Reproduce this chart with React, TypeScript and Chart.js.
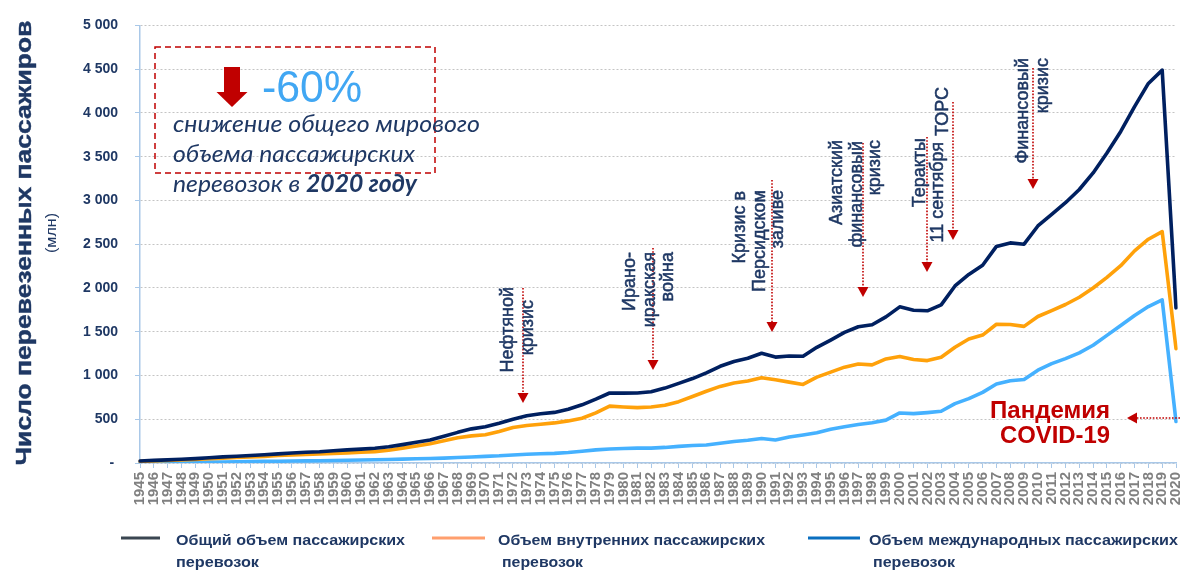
import React, { useEffect, useRef } from 'react';
import { Chart, registerables } from 'chart.js';

Chart.register(...registerables);

// ---------- DATA ----------
const YEARS = [
  '1945', '1946', '1947', '1948', '1949', '1950', '1951', '1952', '1953', '1954',
  '1955', '1956', '1957', '1958', '1959', '1960', '1961', '1962', '1963', '1964',
  '1965', '1966', '1967', '1968', '1969', '1970', '1971', '1972', '1973', '1974',
  '1975', '1976', '1977', '1978', '1979', '1980', '1981', '1982', '1983', '1984',
  '1985', '1986', '1987', '1988', '1989', '1990', '1991', '1992', '1993', '1994',
  '1995', '1996', '1997', '1998', '1999', '2000', '2001', '2002', '2003', '2004',
  '2005', '2006', '2007', '2008', '2009', '2010', '2011', '2012', '2013', '2014',
  '2015', '2016', '2017', '2018', '2019', '2020',
];

// Общий объем (млн)
const TOTAL = [
  23, 30, 36, 42, 50, 60, 70, 78, 86, 94,
  104, 114, 122, 128, 140, 150, 158, 168, 185, 210,
  236, 262, 305, 350, 390, 415, 455, 500, 540, 562,
  578, 615, 665, 730, 800, 798, 800, 814, 856, 910,
  965, 1030, 1105, 1160, 1197, 1254, 1210, 1223, 1220, 1322,
  1405, 1492, 1557, 1579, 1670, 1784, 1746, 1739, 1807, 2023,
  2155, 2260, 2475, 2515, 2500, 2708, 2841, 2974, 3125, 3314,
  3542, 3788, 4072, 4337, 4489, 1773,
];

// Внутренние перевозки (млн)
const DOMESTIC = [
  19, 24, 29, 34, 40, 48, 56, 62, 69, 76,
  85, 93, 99, 103, 110, 116, 122, 130, 145, 170,
  195, 220, 255, 288, 310, 322, 360, 405, 428, 443,
  458, 481, 511, 572, 650, 640, 633, 640, 659, 701,
  760, 820, 875, 915, 937, 975, 951, 924, 898, 981,
  1038, 1095, 1132, 1121, 1189, 1216, 1182, 1170, 1208, 1322,
  1417, 1462, 1585, 1583, 1561, 1674, 1742, 1811, 1894, 2000,
  2121, 2254, 2424, 2557, 2644, 1307,
];

// Международные перевозки (млн)
const INTERNATIONAL = [
  4, 5, 6, 7, 8, 10, 12, 14, 16, 18,
  20, 22, 24, 25, 28, 31, 34, 37, 40, 44,
  48, 52, 56, 62, 68, 76, 82, 92, 100, 105,
  110, 120, 135, 150, 160, 165, 170, 170, 178, 190,
  200, 205, 225, 245, 260, 280, 262, 296, 320, 345,
  385, 415, 440, 460, 490, 572, 564, 576, 591, 678,
  735, 807, 903, 939, 955, 1061, 1136, 1193, 1258, 1345,
  1458, 1572, 1686, 1788, 1864, 474,
];

const LEGEND_LINES: string[][] = [
  ['Общий объем пассажирских', 'перевозок'],
  ['Объем внутренних пассажирских', 'перевозок'],
  ['Объем международных пассажирских', 'перевозок'],
];

const Y_TITLE = 'Число перевезенных пассажиров';
const Y_UNIT = '(млн)';
const DROP_VALUE = '-60%';
const DROP_TEXT = ['снижение общего мирового', 'объема пассажирских', 'перевозок в '];
const DROP_TEXT_BOLD = '2020 году';
const COVID_TEXT = ['Пандемия', 'COVID-19'];

// ---------- STYLE ----------
const NAVY_LINE = '#002060';
const ORANGE_LINE = '#ffa10a';
const BLUE_LINE = '#45b1ff';
const TEXT_NAVY = '#1f3864';
const RED = '#c00000';
const AXIS_BLUE = '#a9c8e8';
const SANS = '"Liberation Sans", Arial, sans-serif';
const NARROW = '"Liberation Sans Narrow", "Arial Narrow", "Liberation Sans", Arial, sans-serif';
const ITALIC_FONT = 'Lato, "Open Sans", "Liberation Sans", sans-serif';

type TxtOpts = {
  font: string;
  color: string;
  align?: CanvasTextAlign;
  baseline?: CanvasTextBaseline;
  rot?: number;
  width?: number;
  stroke?: number;
};

function drawText(ctx: CanvasRenderingContext2D, s: string, x: number, y: number, o: TxtOpts) {
  ctx.save();
  ctx.font = o.font;
  ctx.fillStyle = o.color;
  ctx.textAlign = o.align || 'left';
  ctx.textBaseline = o.baseline || 'alphabetic';
  ctx.translate(x, y);
  if (o.rot) ctx.rotate(o.rot);
  if (o.width) {
    const w = ctx.measureText(s).width;
    if (w > 0) ctx.scale(o.width / w, 1);
  }
  ctx.fillText(s, 0, 0);
  if (o.stroke) {
    ctx.strokeStyle = o.color;
    ctx.lineWidth = o.stroke;
    ctx.strokeText(s, 0, 0);
  }
  ctx.restore();
}

function arrowDown(ctx: CanvasRenderingContext2D, x: number, y1: number, tip: number) {
  ctx.save();
  ctx.strokeStyle = RED;
  ctx.lineWidth = 1.6;
  ctx.setLineDash([1.6, 1.6]);
  ctx.beginPath();
  ctx.moveTo(x, y1);
  ctx.lineTo(x, tip - 9);
  ctx.stroke();
  ctx.setLineDash([]);
  ctx.fillStyle = RED;
  ctx.beginPath();
  ctx.moveTo(x - 5.5, tip - 10);
  ctx.lineTo(x + 5.5, tip - 10);
  ctx.lineTo(x, tip);
  ctx.closePath();
  ctx.fill();
  ctx.restore();
}

function arrowLeft(ctx: CanvasRenderingContext2D, y: number, x1: number, tip: number) {
  ctx.save();
  ctx.strokeStyle = RED;
  ctx.lineWidth = 1.6;
  ctx.setLineDash([1.6, 1.6]);
  ctx.beginPath();
  ctx.moveTo(x1, y);
  ctx.lineTo(tip + 9, y);
  ctx.stroke();
  ctx.setLineDash([]);
  ctx.fillStyle = RED;
  ctx.beginPath();
  ctx.moveTo(tip + 10, y - 5.5);
  ctx.lineTo(tip + 10, y + 5.5);
  ctx.lineTo(tip, y);
  ctx.closePath();
  ctx.fill();
  ctx.restore();
}

// Event annotations: rotated text lines [text, column x, top y] and arrow
const EVENTS: { lines: [string, number, number][]; arrow: [number, number, number] }[] = [
  { lines: [['Нефтяной', 508, 287], ['кризис', 528, 300]], arrow: [523, 288, 403] },
  { lines: [['Ирано-', 630, 252], ['иракская', 650, 252], ['война', 668, 252]], arrow: [653, 248, 370] },
  { lines: [['Кризис в', 740, 191], ['Персидском', 760, 190], ['заливе', 778, 190]], arrow: [772, 180, 332] },
  { lines: [['Азиатский', 837, 140], ['финансовый', 857, 141], ['кризис', 875, 140]], arrow: [863, 143, 297] },
  { lines: [['Теракты', 920, 138], ['11 сентября', 938, 142]], arrow: [927, 137, 272] },
  { lines: [['ТОРС', 943, 87]], arrow: [953, 102, 240] },
  { lines: [['Финансовый', 1023, 58], ['кризис', 1043, 58]], arrow: [1033, 68, 189] },
];

const overlayPlugin = {
  id: 'overlay',
  afterDraw(chart: Chart) {
    const ctx = chart.ctx;
    ctx.save();

    // Y axis title
    drawText(ctx, Y_TITLE, 25, 243, {
      font: `bold 22px ${SANS}`, color: TEXT_NAVY, align: 'center', baseline: 'middle', rot: -Math.PI / 2, width: 445, stroke: 0.4,
    });
    drawText(ctx, Y_UNIT, 52, 233, {
      font: `15px ${SANS}`, color: TEXT_NAVY, align: 'center', baseline: 'middle', rot: -Math.PI / 2, width: 40,
    });

    // Dashed box
    ctx.save();
    ctx.strokeStyle = RED;
    ctx.lineWidth = 1.5;
    ctx.setLineDash([6, 4]);
    ctx.strokeRect(155, 47, 280, 126);
    ctx.restore();

    // Block arrow
    ctx.save();
    ctx.fillStyle = RED;
    ctx.fillRect(224, 67, 16, 26);
    ctx.beginPath();
    ctx.moveTo(216.5, 92);
    ctx.lineTo(247.5, 92);
    ctx.lineTo(232, 107);
    ctx.closePath();
    ctx.fill();
    ctx.restore();

    drawText(ctx, DROP_VALUE, 262, 102, { font: `44px ${SANS}`, color: '#41a7f3', width: 100 });

    drawText(ctx, DROP_TEXT[0], 173, 132, { font: `italic 24px ${ITALIC_FONT}`, color: TEXT_NAVY, width: 307 });
    drawText(ctx, DROP_TEXT[1], 173, 162, { font: `italic 24px ${ITALIC_FONT}`, color: TEXT_NAVY, width: 242 });
    // mixed line
    ctx.save();
    ctx.font = `italic 24px ${ITALIC_FONT}`;
    const w1 = ctx.measureText(DROP_TEXT[2]).width;
    ctx.font = `italic bold 24px ${ITALIC_FONT}`;
    const w2 = ctx.measureText(DROP_TEXT_BOLD).width;
    const k = 244 / (w1 + w2);
    ctx.translate(173, 192);
    ctx.scale(k, 1);
    ctx.fillStyle = TEXT_NAVY;
    ctx.textBaseline = 'alphabetic';
    ctx.font = `italic 24px ${ITALIC_FONT}`;
    ctx.fillText(DROP_TEXT[2], 0, 0);
    ctx.font = `italic bold 24px ${ITALIC_FONT}`;
    ctx.fillText(DROP_TEXT_BOLD, w1, 0);
    ctx.restore();

    // Events
    for (const ev of EVENTS) {
      arrowDown(ctx, ev.arrow[0], ev.arrow[1], ev.arrow[2]);
    }
    for (const ev of EVENTS) {
      for (const [t, cx, top] of ev.lines) {
        drawText(ctx, t, cx, top, {
          font: `18px ${SANS}`, color: TEXT_NAVY, align: 'right', baseline: 'middle', rot: -Math.PI / 2, stroke: 0.5,
        });
      }
    }

    // COVID
    drawText(ctx, COVID_TEXT[0], 1050, 418, { font: `bold 24px ${SANS}`, color: RED, align: 'center', width: 120 });
    drawText(ctx, COVID_TEXT[1], 1055, 443, { font: `bold 24px ${SANS}`, color: RED, align: 'center', width: 110 });
    arrowLeft(ctx, 418, 1180, 1127);

    // Legend
    const legendColors = ['#3a4651', '#ff9f6e', '#0a6fc0'];
    const legendGeom = [
      { x1: 121, x2: 160, tx: 176, w1: 229, t2x: 176, w2: 83 },
      { x1: 432, x2: 485, tx: 498, w1: 267, t2x: 502, w2: 81 },
      { x1: 808, x2: 860, tx: 869, w1: 309, t2x: 873, w2: 82 },
    ];
    legendGeom.forEach((g, i) => {
      ctx.save();
      ctx.strokeStyle = legendColors[i];
      ctx.lineWidth = 3;
      ctx.beginPath();
      ctx.moveTo(g.x1, 538);
      ctx.lineTo(g.x2, 538);
      ctx.stroke();
      ctx.restore();
      drawText(ctx, LEGEND_LINES[i][0], g.tx, 545, { font: `bold 15px ${NARROW}`, color: TEXT_NAVY, width: g.w1 });
      drawText(ctx, LEGEND_LINES[i][1], g.t2x, 567, { font: `bold 15px ${NARROW}`, color: TEXT_NAVY, width: g.w2 });
    });

    ctx.restore();
  },
};

function fmtY(v: number | string) {
  const n = Number(v);
  if (n === 0) return '- ';
  if (n < 1000) return String(n);
  const th = Math.floor(n / 1000);
  const rest = String(n % 1000).padStart(3, '0');
  return `${th} ${rest}`;
}

export default function App() {
  const ref = useRef<HTMLCanvasElement>(null);
  useEffect(() => {
    document.body.style.margin = '0';
    const canvas = ref.current;
    if (!canvas) return;
    const chart = new Chart(canvas, {
      type: 'line',
      data: {
        labels: YEARS,
        datasets: [
          { label: LEGEND_LINES[0].join(' '), data: TOTAL, borderColor: NAVY_LINE, borderWidth: 3.6 },
          { label: LEGEND_LINES[1].join(' '), data: DOMESTIC, borderColor: ORANGE_LINE, borderWidth: 3.6 },
          { label: LEGEND_LINES[2].join(' '), data: INTERNATIONAL, borderColor: BLUE_LINE, borderWidth: 3.6 },
        ],
      },
      options: {
        animation: false,
        responsive: false,
        devicePixelRatio: 1,
        layout: { padding: { top: 23, right: 8, left: 0, bottom: 0 } },
        elements: {
          point: { radius: 0, hoverRadius: 0 },
          line: { tension: 0, borderJoinStyle: 'round', borderCapStyle: 'round', fill: false },
        },
        plugins: {
          legend: { display: false },
          tooltip: { enabled: false },
          title: { display: false },
        },
        scales: {
          x: {
            type: 'category',
            offset: false,
            afterFit: (s: any) => { s.height = 107; },
            grid: {
              drawOnChartArea: false,
              drawTicks: true,
              tickLength: 5,
              tickColor: AXIS_BLUE,
              tickWidth: 1,
            },
            border: { color: AXIS_BLUE, width: 1.5 },
            ticks: {
              autoSkip: false,
              minRotation: 90,
              maxRotation: 90,
              padding: 4,
              color: '#808080',
              font: { family: SANS, size: 15, weight: 'bold' },
            },
          },
          y: {
            min: 0,
            max: 5000,
            afterFit: (s: any) => { s.width = 140; },
            grid: {
              color: '#c4c4c4',
              lineWidth: 1,
              drawTicks: true,
              tickLength: 5,
              tickColor: AXIS_BLUE,
              tickWidth: 1,
              tickBorderDash: [],
            },
            border: { color: AXIS_BLUE, width: 1.5, dash: [2, 2] },
            ticks: {
              stepSize: 500,
              padding: 17,
              color: TEXT_NAVY,
              font: { family: SANS, size: 14, weight: 'bold' },
              callback: (v: any) => fmtY(v),
            },
          },
        },
      },
      plugins: [overlayPlugin],
    } as any);
    return () => chart.destroy();
  }, []);
  return (
    <div style={{ width: 1198, height: 570 }}>
      <canvas ref={ref} width={1198} height={570} style={{ display: 'block', width: 1198, height: 570 }} />
    </div>
  );
}
